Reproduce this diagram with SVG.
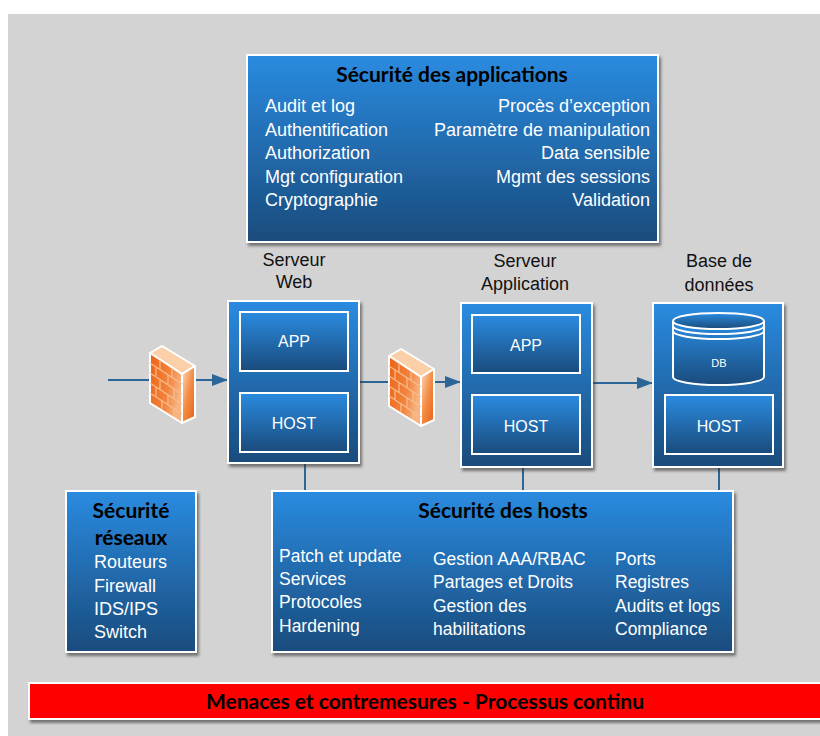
<svg xmlns="http://www.w3.org/2000/svg" width="820" height="736" viewBox="0 0 820 736">
<defs>
<linearGradient id="blue" x1="0" y1="0" x2="0" y2="1">
<stop offset="0" stop-color="#2a8be0"/>
<stop offset="1" stop-color="#1a4b7c"/>
</linearGradient>
<linearGradient id="fwFront" x1="0" y1="0" x2="1" y2="0.4">
<stop offset="0" stop-color="#ee6214"/>
<stop offset="0.65" stop-color="#f2843e"/>
<stop offset="1" stop-color="#f6b482"/>
</linearGradient>
<linearGradient id="fwSide" x1="0" y1="0" x2="1" y2="1">
<stop offset="0" stop-color="#fbdcc0"/>
<stop offset="0.5" stop-color="#f38c44"/>
<stop offset="1" stop-color="#e65e14"/>
</linearGradient>
<filter id="sh" x="-10%" y="-10%" width="125%" height="125%">
<feDropShadow dx="2" dy="3" stdDeviation="1.5" flood-color="#333" flood-opacity="0.6"/>
</filter>
<marker id="arr" viewBox="0 0 16 12" refX="16" refY="6" markerWidth="16" markerHeight="12" markerUnits="userSpaceOnUse" orient="auto">
<path d="M0,0 L16,6 L0,12 Z" fill="#2c6698"/>
</marker>
<g id="fw">
<path d="M150,353 L162,346 L195,366 L182,374 Z" fill="#fbd0a8" stroke="#fff" stroke-width="2" stroke-linejoin="round"/>
<path d="M150,353 L182,374 L182,423 L150,403 Z" fill="url(#fwFront)" stroke="#fff" stroke-width="2" stroke-linejoin="round"/>
<path d="M182,374 L195,366 L195,417 L182,423 Z" fill="url(#fwSide)" stroke="#fff" stroke-width="2" stroke-linejoin="round"/>
<g stroke="#f9bd90" stroke-width="1.2" fill="none">
<path d="M150,363 L182,384 M150,373 L182,394 M150,383 L182,404 M150,393 L182,414"/>
<path d="M160,360 L160,369 M172,368 L172,377 M156,367 L156,376 M168,375 L168,384 M160,380 L160,389 M174,389 L174,398 M156,387 L156,396 M168,395 L168,404 M162,400 L162,409 M174,408 L174,417"/>
</g>
</g>
</defs>
<style>
.box{fill:url(#blue);stroke:#fff;stroke-width:2;filter:url(#sh)}
.inner{fill:url(#blue);stroke:#fff;stroke-width:2}
.t{font-family:"Liberation Sans",Arial,sans-serif;fill:#fff}
.lab{font-family:"Liberation Sans",Arial,sans-serif;fill:#111;font-size:18px;text-anchor:middle}
.ttl{font-family:Lato,"Liberation Sans",sans-serif;font-weight:700;fill:#000}
.con{stroke:#2c6698;stroke-width:2;fill:none}
</style>
<rect x="0" y="0" width="820" height="736" fill="#fff"/>
<rect x="8" y="14" width="812" height="722" fill="#d3d3d3"/>

<g id="connectors">
<line class="con" x1="108" y1="380" x2="150" y2="380"/>
<line class="con" x1="195" y1="380" x2="228" y2="380" marker-end="url(#arr)"/>
<line class="con" x1="359" y1="382" x2="388" y2="382"/>
<line class="con" x1="433" y1="382" x2="461" y2="382" marker-end="url(#arr)"/>
<line class="con" x1="592" y1="383" x2="653" y2="383" marker-end="url(#arr)"/>
<line class="con" x1="305" y1="463" x2="305" y2="491"/>
<line class="con" x1="523" y1="467" x2="523" y2="491"/>
<line class="con" x1="719" y1="467" x2="719" y2="491"/>
</g>

<g id="firewall1"><use href="#fw"/></g>
<g id="firewall2"><use href="#fw" transform="translate(239,3)"/></g>

<g id="app-security">
<rect class="box" x="247" y="55" width="411" height="187"/>
<text class="ttl" x="452" y="82" font-size="21" text-anchor="middle">Sécurité des applications</text>
<g class="t" font-size="18">
<text x="265" y="112">Audit et log</text>
<text x="265" y="136">Authentification</text>
<text x="265" y="159">Authorization</text>
<text x="265" y="183">Mgt configuration</text>
<text x="265" y="206">Cryptographie</text>
<g text-anchor="end">
<text x="650" y="112">Procès d’exception</text>
<text x="650" y="136">Paramètre de manipulation</text>
<text x="650" y="159">Data sensible</text>
<text x="650" y="183">Mgmt des sessions</text>
<text x="650" y="206">Validation</text>
</g>
</g>
</g>

<g id="web-server">
<text class="lab" x="294" y="266">Serveur</text>
<text class="lab" x="294" y="288">Web</text>
<rect class="box" x="228" y="301" width="131" height="162"/>
<rect class="inner" x="240" y="312" width="108" height="59"/>
<rect class="inner" x="240" y="393" width="108" height="59"/>
<text class="t" x="294" y="347" font-size="16" text-anchor="middle">APP</text>
<text class="t" x="294" y="429" font-size="16" text-anchor="middle">HOST</text>
</g>

<g id="app-server">
<text class="lab" x="525" y="267">Serveur</text>
<text class="lab" x="525" y="290">Application</text>
<rect class="box" x="461" y="303" width="131" height="164"/>
<rect class="inner" x="472" y="315" width="108" height="58"/>
<rect class="inner" x="472" y="395" width="108" height="59"/>
<text class="t" x="526" y="351" font-size="16" text-anchor="middle">APP</text>
<text class="t" x="526" y="432" font-size="16" text-anchor="middle">HOST</text>
</g>

<g id="database">
<text class="lab" x="719" y="267">Base de</text>
<text class="lab" x="719" y="291">données</text>
<rect class="box" x="653" y="303" width="130" height="164"/>
<path class="inner" d="M673,321 L673,377 A45.5,8 0 0 0 764,377 L764,321"/>
<ellipse class="inner" cx="718.5" cy="321" rx="45.5" ry="8"/>
<path d="M673,326 A45.5,8 0 0 0 764,326 M673,331 A45.5,8 0 0 0 764,331" fill="none" stroke="#fff" stroke-width="2"/>
<text class="t" x="719" y="367" font-size="11" text-anchor="middle">DB</text>
<rect class="inner" x="665" y="395" width="108" height="59"/>
<text class="t" x="719" y="432" font-size="16" text-anchor="middle">HOST</text>
</g>

<g id="network-security">
<rect class="box" x="66" y="491" width="130" height="161"/>
<text class="ttl" x="131" y="518" font-size="21" text-anchor="middle">Sécurité</text>
<text class="ttl" x="131" y="545" font-size="21" text-anchor="middle">réseaux</text>
<g class="t" font-size="18">
<text x="94" y="568">Routeurs</text>
<text x="94" y="592">Firewall</text>
<text x="94" y="615">IDS/IPS</text>
<text x="94" y="638">Switch</text>
</g>
</g>

<g id="host-security">
<rect class="box" x="272" y="491" width="461" height="161"/>
<text class="ttl" x="503" y="518" font-size="21" text-anchor="middle">Sécurité des hosts</text>
<g class="t" font-size="17.5">
<text x="279" y="562">Patch et update</text>
<text x="279" y="585">Services</text>
<text x="279" y="608">Protocoles</text>
<text x="279" y="632">Hardening</text>
<text x="433" y="565">Gestion AAA/RBAC</text>
<text x="433" y="588">Partages et Droits</text>
<text x="433" y="612">Gestion des</text>
<text x="433" y="635">habilitations</text>
<text x="615" y="565">Ports</text>
<text x="615" y="588">Registres</text>
<text x="615" y="612">Audits et logs</text>
<text x="615" y="635">Compliance</text>
</g>
</g>

<g id="process-bar">
<rect x="29" y="683" width="800" height="36" fill="#ff0000" stroke="#fff" stroke-width="2" filter="url(#sh)"/>
<text class="ttl" x="425" y="709" font-size="21" text-anchor="middle">Menaces et contremesures - Processus continu</text>
</g>
</svg>
